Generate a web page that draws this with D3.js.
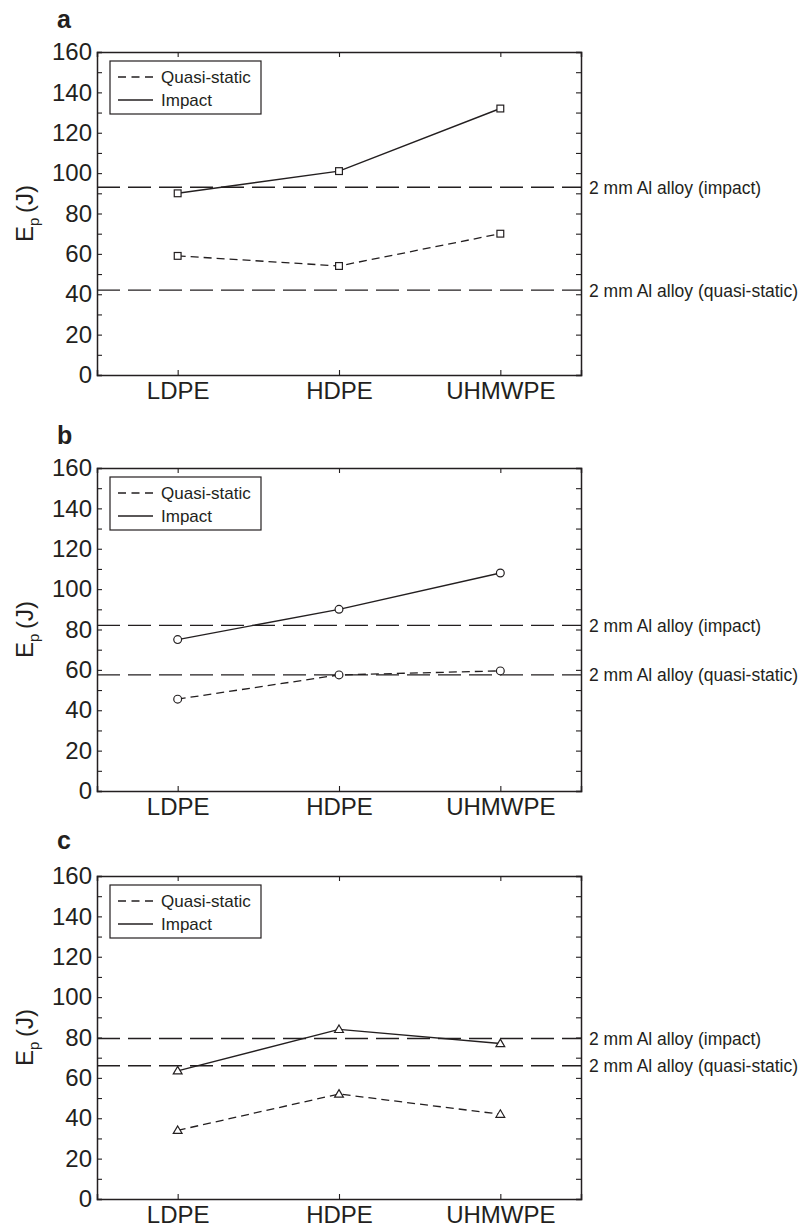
<!DOCTYPE html>
<html>
<head>
<meta charset="utf-8">
<script src="https://cdn.jsdelivr.net/npm/d3@7"></script>
<style>
  html, body { margin: 0; padding: 0; background: #fff; }
  svg { display: block; font-family: "Liberation Sans", Arial, Helvetica, sans-serif; }
</style>
</head>
<body>
<svg id="chart" width="809" height="1227"></svg>
<script>
// Materials on the x axis
const categories = ["LDPE", "HDPE", "UHMWPE"];

// Perforation energy E_p (J) per panel
const panelLetters = ["a", "b", "c"];
const impactA = [90, 101, 132];
const quasiA  = [59, 54, 70];
const impactB = [75, 90, 108];
const quasiB  = [45.5, 57.5, 59.5];
const impactC = [63.5, 84, 77];
const quasiC  = [34, 52, 42];

// Reference levels of a 2 mm aluminium alloy plate
const alImpact = [93, 82, 79.5];
const alQuasi  = [42, 57.5, 66];
const alImpactLabel = "2 mm Al alloy (impact)";
const alQuasiLabel  = "2 mm Al alloy (quasi-static)";

// Axis ticks
const yMajorTicks = [0, 20, 40, 60, 80, 100, 120, 140, 160];
const yMinorTicks = [10, 30, 50, 70, 90, 110, 130, 150];
const seriesNames = ["Quasi-static", "Impact"];
const markerShapes = ["square", "circle", "triangle"];

const panels = [
  { impact: impactA, quasi: quasiA, alI: alImpact[0], alQ: alQuasi[0] },
  { impact: impactB, quasi: quasiB, alI: alImpact[1], alQ: alQuasi[1] },
  { impact: impactC, quasi: quasiC, alI: alImpact[2], alQ: alQuasi[2] }
];

const ink = "#231f20";
const svg = d3.select("#chart");

const left = 97, right = 581, plotH = 323;
const tops = [52, 468, 876];
const letterOffset = [24, 24, 27];

const x = d3.scaleLinear().domain([-0.5, categories.length - 0.5]).range([left, right]);

function drawMarker(g, shape, cx, cy) {
  if (shape === "square") {
    g.append("rect").attr("x", cx - 3.4).attr("y", cy - 3.4).attr("width", 6.8).attr("height", 6.8)
      .attr("fill", "#fff").attr("stroke", ink).attr("stroke-width", 1.2);
  } else if (shape === "circle") {
    g.append("circle").attr("cx", cx).attr("cy", cy).attr("r", 3.9)
      .attr("fill", "#fff").attr("stroke", ink).attr("stroke-width", 1.2);
  } else {
    const s = 4.4;
    g.append("path")
      .attr("d", `M${cx},${cy - s}L${cx + s},${cy + s * 0.7}L${cx - s},${cy + s * 0.7}Z`)
      .attr("fill", "#fff").attr("stroke", ink).attr("stroke-width", 1.2);
  }
}

panels.forEach((p, i) => {
  const top = tops[i], bottom = top + plotH;
  const y = d3.scaleLinear().domain([0, 160]).range([bottom, top]);
  const g = svg.append("g");

  // panel letter
  g.append("text").attr("x", 57).attr("y", top - letterOffset[i])
    .attr("font-size", 25).attr("font-weight", "bold").attr("fill", ink)
    .text(panelLetters[i]);

  // reference lines for the aluminium plate
  [[p.alI, alImpactLabel], [p.alQ, alQuasiLabel]].forEach(([v, label]) => {
    g.append("line").attr("x1", left).attr("x2", right)
      .attr("y1", y(v)).attr("y2", y(v))
      .attr("stroke", ink).attr("stroke-width", 1.3)
      .attr("stroke-dasharray", "23,8");
    g.append("text").attr("x", 589).attr("y", y(v))
      .attr("dy", "0.36em").attr("font-size", 17.5).attr("fill", ink)
      .text(label);
  });

  // series lines
  const line = d3.line().x((d, k) => x(k)).y(d => y(d));
  g.append("path").datum(p.quasi).attr("d", line)
    .attr("fill", "none").attr("stroke", ink).attr("stroke-width", 1.3)
    .attr("stroke-dasharray", "8,5");
  g.append("path").datum(p.impact).attr("d", line)
    .attr("fill", "none").attr("stroke", ink).attr("stroke-width", 1.4);

  // markers
  p.quasi.forEach((v, k) => drawMarker(g, markerShapes[i], x(k), y(v)));
  p.impact.forEach((v, k) => drawMarker(g, markerShapes[i], x(k), y(v)));

  // axes: box with inward ticks
  const catIdx = categories.map((c, k) => k);
  const axL = g.append("g").attr("transform", `translate(${left},0)`)
    .call(d3.axisRight(y).tickValues(yMajorTicks.concat(yMinorTicks)).tickSize(5).tickFormat(""));
  const axR = g.append("g").attr("transform", `translate(${right},0)`)
    .call(d3.axisLeft(y).tickValues(yMajorTicks.concat(yMinorTicks)).tickSize(5).tickFormat(""));
  const axT = g.append("g").attr("transform", `translate(0,${top})`)
    .call(d3.axisBottom(x).tickValues(catIdx).tickSize(5).tickFormat(""));
  const axB = g.append("g").attr("transform", `translate(0,${bottom})`)
    .call(d3.axisTop(x).tickValues(catIdx).tickSize(5).tickFormat(""));
  [axL, axR, axT, axB].forEach(a => {
    a.selectAll(".domain").attr("stroke", ink).attr("stroke-width", 1.5);
    a.selectAll(".tick line").attr("stroke", ink).attr("stroke-width", 1.1);
  });

  // y tick labels
  const yl = g.append("g").attr("transform", `translate(${left},0)`)
    .call(d3.axisLeft(y).tickValues(yMajorTicks).tickSize(0).tickPadding(5));
  yl.select(".domain").remove();
  yl.selectAll("text").attr("font-size", 24).attr("fill", ink)
    .attr("font-family", "'Liberation Sans', Arial, sans-serif");

  // category labels
  const xl = g.append("g").attr("transform", `translate(0,${bottom})`)
    .call(d3.axisBottom(x).tickValues(catIdx).tickSize(0).tickPadding(7)
      .tickFormat(k => categories[k]));
  xl.select(".domain").remove();
  xl.selectAll("text").attr("font-size", 24).attr("fill", ink)
    .attr("font-family", "'Liberation Sans', Arial, sans-serif");

  // y axis title
  const t = g.append("text")
    .attr("transform", `translate(33,${(top + bottom) / 2}) rotate(-90)`)
    .attr("text-anchor", "middle").attr("font-size", 24).attr("fill", ink);
  t.append("tspan").text("E");
  t.append("tspan").attr("font-size", 15).attr("dy", 6).text("p");
  t.append("tspan").attr("dy", -6).text("\u2009(J)");

  // legend
  const lg = g.append("g").attr("transform", `translate(${left + 13},${top + 9})`);
  lg.append("rect").attr("width", 151).attr("height", 53)
    .attr("fill", "#fff").attr("stroke", ink).attr("stroke-width", 1.2);
  seriesNames.forEach((name, k) => {
    const ry = 16 + k * 23;
    lg.append("line").attr("x1", 8).attr("x2", 43).attr("y1", ry).attr("y2", ry)
      .attr("stroke", ink).attr("stroke-width", 1.3)
      .attr("stroke-dasharray", k === 0 ? "8,5.5" : null);
    lg.append("text").attr("x", 51).attr("y", ry).attr("dy", "0.36em")
      .attr("font-size", 17).attr("fill", ink).text(name);
  });
});
</script>
</body>
</html>
